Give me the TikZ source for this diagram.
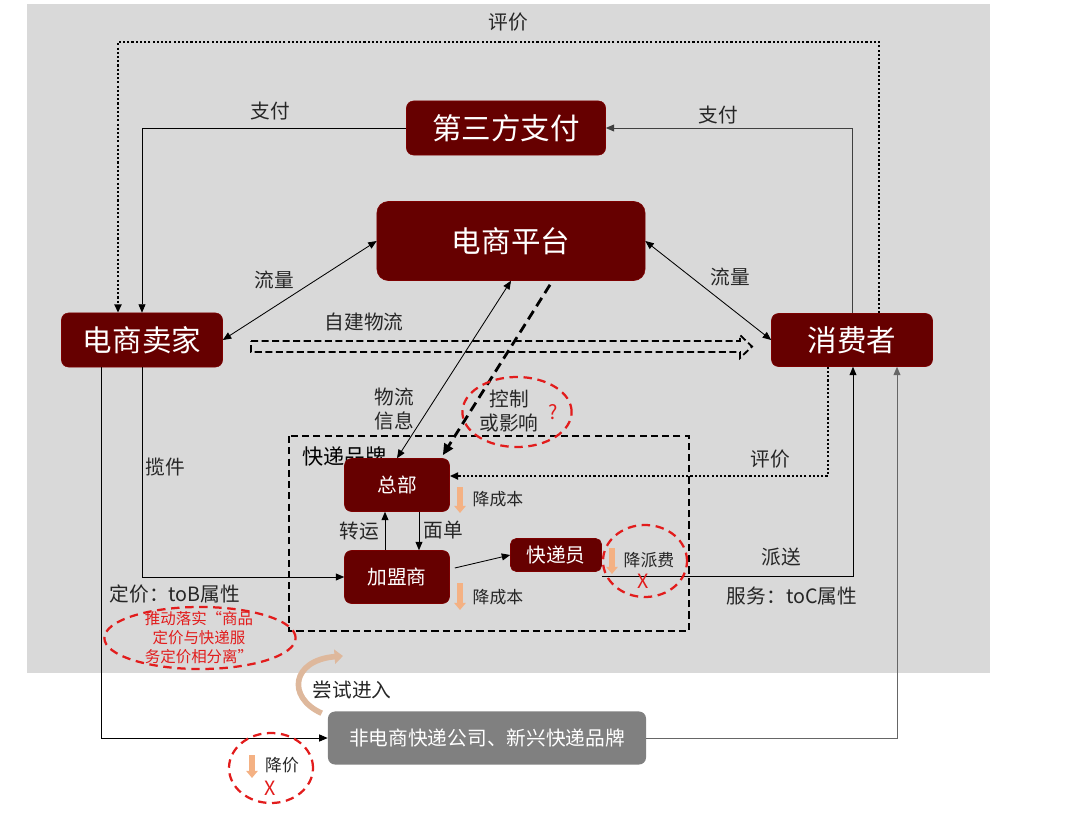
\documentclass[tikz,border=0pt]{standalone}
\usepackage{fontspec}
\setmainfont{Noto Sans CJK SC}
\usetikzlibrary{arrows.meta, positioning, calc, shapes.geometric}

\definecolor{boxred}{RGB}{102,0,0}
\definecolor{bggray}{RGB}{217,217,217}
\definecolor{dropc}{RGB}{244,177,131}
\definecolor{markred}{RGB}{226,28,28}
\definecolor{newgray}{RGB}{128,128,128}
\definecolor{trycol}{RGB}{222,184,156}

\begin{document}
\begin{tikzpicture}[x=0.025cm, y=-0.025cm, >={Triangle[length=6pt,width=5pt]},
  redbox/.style={fill=boxred, draw=boxred!85!red, text=white, rounded corners=5pt, inner sep=0pt},
  bigfont/.style={font=\fontsize{21}{25}\selectfont},
  midfont/.style={font=\fontsize{14}{17}\selectfont},
  lbltxt/.style={font=\fontsize{14}{17}\selectfont, text=black!85, inner sep=1pt},
  droptxt/.style={font=\fontsize{12}{14}\selectfont, text=black!85, inner sep=1pt},
  conn/.style={draw=black, line width=0.6pt},
  evalline/.style={draw=black, line width=1.5pt, dash pattern=on 1.5pt off 1.5pt},
  ring/.style={ellipse, draw=markred, line width=1.6pt, dash pattern=on 6pt off 4pt, inner sep=0pt},
  drop/.style={draw=dropc, line width=4pt, -{Triangle[length=5pt,width=8pt]}},
  redx/.style={font=\fontsize{14}{17}\selectfont, text=markred, inner sep=0pt}]

  \useasboundingbox (0,0) rectangle (1067,822);
  \fill[bggray] (27,4) rectangle (990,673);

  % main players
  \node[redbox, bigfont, minimum width=4.975cm, minimum height=1.35cm] (pay) at (506,128) {第三方支付};
  \node[redbox, bigfont, minimum width=6.7cm, minimum height=1.975cm, rounded corners=8pt] (plat) at (511,241) {电商平台};
  \node[redbox, bigfont, minimum width=4.025cm, minimum height=1.35cm] (seller) at (142,340) {电商卖家};
  \node[redbox, bigfont, minimum width=4.025cm, minimum height=1.325cm] (buyer) at (852,340) {消费者};

  % express brand
  \draw[line width=1.5pt, dash pattern=on 5pt off 3pt] (289,436) rectangle (689,631);
  \node[anchor=west, font=\fontsize{15}{18}\selectfont, inner sep=0pt] (brand) at (302,456) {快递品牌};
  \node[redbox, midfont, minimum width=2.625cm, minimum height=1.325cm] (hq) at (397,485) {总部};
  \node[redbox, midfont, minimum width=2.625cm, minimum height=1.325cm] (fr) at (397,577) {加盟商};
  \node[redbox, midfont, minimum width=2.275cm, minimum height=0.825cm, rounded corners=4pt] (cour) at (556,555) {快递员};
  \node[fill=newgray, text=white, rounded corners=5pt, midfont, minimum width=7.95cm, minimum height=1.325cm] (newco) at (487,738) {非电商快递公司、新兴快递品牌};

  % rating and payment
  \coordinate (evtop) at (508,42);
  \draw[evalline, ->] ($(buyer.north)+(27,0)$) |- (evtop) -| ($(seller.north)+(-24,0)$);
  \node[lbltxt] (ev1) at (508,22) {评价};
  \draw[conn, ->] (pay.west) -| (seller.north);
  \node[lbltxt] (pay1) at (270,111) {支付};
  \draw[conn, draw=black!75, ->] (buyer.north) |- (pay.east);
  \node[lbltxt] (pay2) at (718,115) {支付};

  % traffic
  \draw[conn, <->] (seller.east) -- (plat.west);
  \node[lbltxt] (flow1) at (274,280) {流量};
  \draw[conn, <->] (plat.east) -- (buyer.west);
  \node[lbltxt] (flow2) at (730,277) {流量};

  % own logistics (hollow dashed arrow)
  \draw[line width=1.3pt, dash pattern=on 5pt off 2.5pt]
    (251,341) -- (740,341) -- (740,335) -- (752,346.5) -- (740,358) -- (740,352) -- (251,352) -- cycle;
  \node[lbltxt] (self) at (364,322) {自建物流};

  % platform and express HQ
  \draw[conn, <->] (hq.north) -- (plat.south);
  \node[lbltxt, align=center] (info) at (394,409) {物流\\信息};
  \draw[line width=2pt, dash pattern=on 7pt off 4pt, -{Triangle[length=8pt,width=7pt]}]
    ($(plat.south)+(39,4)$) -- ($(hq.north east)+(-7,-3)$);
  \node[ring, minimum width=2.73cm, minimum height=1.75cm] (ctlring) at (517,412) {};
  \node[lbltxt, align=center] (ctl) at (509,411) {控制\\或影响};
  \node[redx] (ask) at (553,412) {?};

  % pickup, transfer, delivery
  \draw[conn, ->] (seller.south) |- (fr.west);
  \node[lbltxt] (pick) at (165,467) {揽件};
  \draw[conn, ->] ($(fr.north)+(-12,0)$) -- ($(hq.south)+(-12,0)$);
  \node[lbltxt] (trans) at (359,531) {转运};
  \draw[conn, ->] ($(hq.south)+(22,0)$) -- ($(fr.north)+(22,0)$);
  \node[lbltxt] (sheet) at (443,530) {面单};
  \draw[conn, ->] ($(fr.east)+(5,-9)$) -- (cour.west);
  \draw[conn, ->] ($(cour.south east)+(0,5)$) -| ($(buyer.south)+(1,0)$);
  \node[lbltxt] (deliv) at (781,557) {派送};
  \node[lbltxt] (toc) at (792,596) {服务：toC属性};
  \draw[evalline, ->] ($(buyer.south)+(-24,0)$) |- ($(hq.east)+(0,-9)$);
  \node[lbltxt] (ev2) at (770,459) {评价};

  % cost cuts
  \draw[drop] (460,487) -- (460,513);
  \node[droptxt] (cut1) at (498,499) {降成本};
  \draw[drop] (460,583) -- (460,610);
  \node[droptxt] (cut2) at (498,597) {降成本};
  \node[ring, minimum width=2.1cm, minimum height=1.8cm] (feering) at (645,561) {};
  \draw[drop] (612,548) -- (612,574);
  \node[droptxt] (fee) at (649,560) {降派费};
  \node[redx] (x1) at (643,581) {X};

  % pricing
  \node[lbltxt] (tob) at (175,594) {定价：toB属性};
  \node[ring, minimum width=4.78cm, minimum height=1.55cm] (sepring) at (200,638) {};
  \node[align=center, text=markred, font=\fontsize{11}{13.5}\selectfont, inner sep=0pt] (sep) at (199,638)
    {推动落实“商品\\定价与快递服\\务定价相分离”};

  % new entrants
  \draw[conn, ->] ($(seller.south)+(-41,0)$) |- (newco.west);
  \draw[conn, draw=black!60, ->] (newco.east) -| ($(buyer.south)+(45,0)$);
  \coordinate (tryend) at (343,656);
  \draw[trycol, line width=4pt, -{Triangle[length=6pt,width=10pt]}]
    ($(newco.north west)+(-6,2)$) .. controls (286,697) and (292,660) .. (tryend);
  \node[lbltxt] (try) at (352,690) {尝试进入};
  \node[ring, minimum width=2.1cm, minimum height=1.75cm] (pricering) at (271,768) {};
  \draw[drop] (252,755) -- (252,778);
  \node[droptxt] (price) at (282,765) {降价};
  \node[redx] (x2) at (270,788) {X};
\end{tikzpicture}
\end{document}
